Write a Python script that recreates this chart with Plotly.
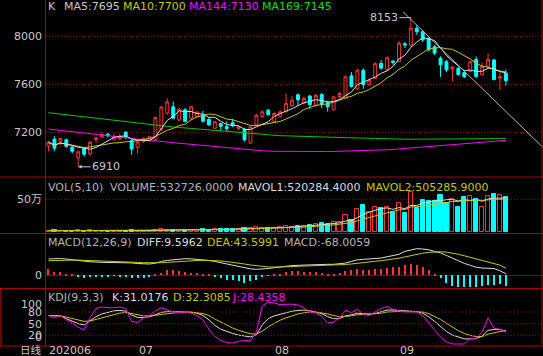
import plotly.graph_objects as go
import pandas as pd

# ---------------- data ----------------
idx = list(range(78))
opens = [7085, 7140, 7120, 7135, 7075, 6985, 7065, 7020, 7135, 7160,
         7182, 7140, 7145, 7200, 7128, 7072, 7120, 7130, 7135, 7225,
         7358, 7410, 7300, 7385, 7315, 7330, 7340, 7305, 7232, 7270,
         7245, 7278, 7230, 7222, 7108, 7260, 7330, 7382, 7288, 7330,
         7370, 7420, 7510, 7440, 7500, 7420, 7512, 7445, 7385, 7495,
         7482, 7668, 7560, 7715, 7595, 7648, 7772, 7720, 7790, 7788,
         7935, 7925, 8065, 8035, 7980, 7910, 7815, 7785, 7725, 7730,
         7695, 7705, 7805, 7678, 7745, 7800, 7650, 7690]
highs = [7125, 7165, 7150, 7145, 7080, 7045, 7075, 7125, 7160, 7195,
         7190, 7185, 7180, 7205, 7140, 7125, 7155, 7170, 7330, 7420,
         7480, 7455, 7400, 7400, 7420, 7375, 7375, 7320, 7290, 7275,
         7290, 7310, 7255, 7235, 7250, 7350, 7380, 7390, 7365, 7380,
         7520, 7500, 7520, 7495, 7510, 7520, 7525, 7460, 7500, 7535,
         7670, 7700, 7725, 7730, 7645, 7780, 7800, 7830, 7800, 7960,
         7950, 8153, 8090, 8050, 7990, 7925, 7830, 7800, 7750, 7745,
         7710, 7795, 7830, 7780, 7855, 7810, 7690, 7720]
lows = [7040, 7040, 7090, 7070, 7025, 6910, 6995, 7000, 7110, 7150,
        7155, 7130, 7130, 7140, 7010, 7020, 7110, 7120, 7125, 7210,
        7340, 7305, 7290, 7280, 7300, 7320, 7280, 7250, 7225, 7210,
        7210, 7240, 7215, 7120, 7100, 7250, 7320, 7335, 7280, 7320,
        7360, 7410, 7420, 7430, 7390, 7410, 7400, 7370, 7378, 7480,
        7475, 7570, 7550, 7560, 7585, 7640, 7720, 7710, 7760, 7780,
        7900, 7915, 8010, 7950, 7870, 7840, 7660, 7700, 7620, 7670,
        7650, 7700, 7650, 7670, 7735, 7630, 7550, 7585]
closes = [7115, 7065, 7145, 7080, 7040, 7035, 7015, 7115, 7150, 7178,
          7168, 7160, 7165, 7162, 7058, 7118, 7145, 7160, 7320, 7408,
          7450, 7315, 7390, 7288, 7410, 7365, 7290, 7260, 7285, 7248,
          7228, 7252, 7245, 7135, 7242, 7340, 7368, 7345, 7355, 7368,
          7438, 7465, 7468, 7480, 7428, 7505, 7430, 7412, 7492, 7520,
          7660, 7580, 7715, 7595, 7632, 7770, 7732, 7818, 7780, 7940,
          7925, 8065, 8035, 7968, 7885, 7858, 7760, 7718, 7740, 7678,
          7660, 7785, 7662, 7745, 7805, 7637, 7660, 7628]
volumes = [25000, 30000, 20000, 25000, 20000, 35000, 25000, 30000, 20000, 25000,
           20000, 15000, 20000, 25000, 30000, 25000, 20000, 25000, 40000, 45000,
           40000, 35000, 30000, 30000, 35000, 40000, 45000, 40000, 50000, 45000,
           50000, 45000, 50000, 60000, 70000, 75000, 60000, 65000, 70000, 75000,
           90000, 85000, 90000, 95000, 110000, 130000, 140000, 130000, 155000, 155000,
           260000, 190000, 345000, 410000, 310000, 375000, 360000, 385000, 300000, 445000,
           295000, 610000, 365000, 495000, 480000, 470000, 570000, 450000, 510000, 375000,
           530000, 550000, 510000, 380000, 550000, 575000, 560000, 532726]
ma144 = [7225, 7219, 7214, 7208, 7203, 7197, 7191, 7186, 7180, 7175,
         7169, 7163, 7158, 7152, 7147, 7141, 7136, 7130, 7125, 7120,
         7116, 7111, 7106, 7102, 7097, 7092, 7087, 7083, 7078, 7073,
         7069, 7064, 7060, 7056, 7052, 7048, 7044, 7040, 7039, 7039,
         7038, 7038, 7037, 7036, 7036, 7035, 7036, 7037, 7038, 7039,
         7040, 7041, 7042, 7043, 7044, 7045, 7048, 7052, 7055, 7059,
         7062, 7066, 7069, 7073, 7076, 7080, 7084, 7088, 7093, 7097,
         7101, 7105, 7109, 7113, 7118, 7122, 7126, 7130]
ma169 = [7361, 7355, 7349, 7343, 7337, 7331, 7325, 7319, 7313, 7307,
         7302, 7296, 7290, 7284, 7278, 7272, 7266, 7260, 7256, 7251,
         7247, 7242, 7238, 7234, 7229, 7225, 7220, 7216, 7212, 7207,
         7203, 7198, 7194, 7190, 7185, 7181, 7176, 7172, 7171, 7169,
         7168, 7166, 7165, 7163, 7162, 7160, 7159, 7157, 7156, 7155,
         7153, 7152, 7150, 7149, 7147, 7146, 7144, 7143, 7141, 7140,
         7140, 7140, 7140, 7141, 7141, 7141, 7141, 7142, 7142, 7142,
         7143, 7143, 7143, 7144, 7144, 7144, 7145, 7145]
diff = [101, 104, 104, 101, 98, 95, 88, 84, 81, 79,
        79, 79, 79, 79, 77, 73, 70, 70, 75, 86,
        92, 97, 100, 103, 102, 99, 97, 92, 86, 78,
        70, 62, 54, 48, 40, 37, 38, 42, 47, 52,
        56, 60, 62, 64, 66, 68, 68, 68, 68, 70,
        76, 86, 96, 99, 101, 102, 107, 115, 122, 130,
        148, 157, 165, 163, 158, 148, 139, 123, 106, 88,
        74, 62, 50, 45, 43, 42, 28, 9.5962]
dea = [90, 92, 93, 94, 94, 94, 93, 91, 89, 87,
       86, 84, 83, 82, 81, 80, 78, 77, 77, 78,
       80, 83, 86, 89, 91, 92, 93, 93, 91, 89,
       85, 81, 76, 70, 64, 59, 55, 52, 51, 51,
       52, 54, 56, 57, 59, 61, 62, 63, 64, 65,
       67, 70, 75, 79, 83, 87, 90, 94, 100, 106,
       114, 122, 131, 137, 142, 145, 146, 144, 138, 130,
       121, 111, 101, 92, 83, 74, 63, 43.5991]
macd = [36, 21, 21, 11, 4, -6, -15, -11, -11, -6,
        -6, -4, -6, -11, -17, -17, -15, -11, 4, 17,
        32, 32, 28, 21, 17, 13, 9, 4, -6, -17,
        -28, -32, -37, -45, -37, -26, -11, -2, 6, 11,
        19, 24, 24, 21, 21, 19, 15, 11, 11, 15,
        26, 32, 36, 34, 34, 36, 41, 47, 52, 54,
        62, 69, 62, 49, 30, 6, -19, -45, -67, -73,
        -75, -73, -71, -67, -62, -58, -54, -68.0059]
k_vals = [71, 70, 70, 63, 57, 50, 47, 57, 68, 75,
          80, 83, 84, 82, 72, 66, 66, 68, 73, 79,
          81, 81, 80, 80, 80, 77, 71, 60, 46, 36,
          30, 25, 21, 18, 16, 22, 47, 63, 70, 74,
          78, 82, 84, 85, 83, 80, 76, 68, 63, 63,
          70, 73, 77, 76, 74, 76, 81, 85, 85, 84,
          82, 81, 81, 77, 68, 56, 43, 30, 21, 15,
          11, 11, 12, 18, 33, 35, 35, 31.0176]
d_vals = [71, 70, 70, 67, 63, 60, 56, 57, 61, 65,
          70, 74, 77, 79, 76, 73, 70, 70, 71, 74,
          76, 78, 79, 79, 79, 78, 76, 71, 62, 54,
          46, 39, 33, 28, 24, 23, 31, 42, 51, 59,
          65, 71, 75, 78, 80, 80, 78, 75, 71, 68,
          69, 70, 73, 74, 74, 75, 77, 80, 81, 82,
          82, 81, 81, 80, 76, 69, 61, 51, 41, 32,
          25, 20, 17, 17, 23, 27, 30, 32.3085]
j_vals = [71, 65, 71, 60, 52, 41, 34, 65, 89, 93,
          91, 91, 93, 89, 56, 53, 65, 71, 83, 91,
          85, 80, 78, 80, 77, 71, 60, 36, 18, 7,
          2, 0, 5, 7, 6, 29, 96, 105, 103, 99,
          100, 100, 98, 91, 80, 78, 69, 52, 54, 65,
          85, 78, 87, 74, 71, 80, 89, 94, 87, 83,
          80, 80, 80, 71, 52, 32, 16, 3, -2, -2,
          -2, 12, 12, 29, 65, 38, 36, 28.4358]
trend_x = [59.68, 83.25]
trend_y = [8202, 7071]
month_pos = [0, 15, 38, 59]
month_labels = ["202006", "07", "08", "09"]
price_ticks = [7200, 7600, 8000]
kdj_ticks = [20, 50, 80, 100]

# ---------------- derived ----------------
cs = pd.Series(closes)
ma5 = cs.rolling(5, min_periods=1).mean()
ma10 = cs.rolling(10, min_periods=1).mean()
vs = pd.Series(volumes)
mavol1 = vs.rolling(5, min_periods=1).mean()
mavol2 = vs.rolling(10, min_periods=1).mean()

RED = "#FF3232"
CYAN = "#00FFFF"
WHITE = "#DCDCDC"
YEL = "#C8C800"
MAG = "#FF00FF"
GRN = "#00C800"
LAB = "#C8C8C8"
SEP = "#B00000"
GRID = "#8C0000"
FONT = "DejaVu Sans, Noto Sans CJK SC"
W, H = 543, 356


def py(p):
    return 1 - p / H


up = [c >= o for o, c in zip(opens, closes)]

fig = go.Figure()
fig.add_trace(go.Candlestick(
    x=idx, open=opens, high=highs, low=lows, close=closes,
    increasing=dict(line=dict(color=RED, width=1), fillcolor="black"),
    decreasing=dict(line=dict(color=CYAN, width=1), fillcolor=CYAN),
    whiskerwidth=0, xaxis="x", yaxis="y", hoverinfo="skip"))
for s, c in [(ma169, GRN), (ma144, MAG), (ma10, YEL), (ma5, WHITE)]:
    fig.add_trace(go.Scatter(x=idx, y=list(s), mode="lines",
                             line=dict(color=c, width=1), xaxis="x", yaxis="y"))
fig.add_trace(go.Scatter(x=trend_x, y=trend_y, mode="lines",
                         line=dict(color="#B4B4B4", width=1), xaxis="x", yaxis="y"))

# volume
fig.add_trace(go.Bar(x=idx, y=volumes, width=0.7,
                     marker=dict(color=["black" if u else CYAN for u in up],
                                 line=dict(color=[RED if u else CYAN for u in up], width=1)),
                     xaxis="x", yaxis="y2"))
fig.add_trace(go.Scatter(x=idx, y=list(mavol1), mode="lines",
                         line=dict(color=WHITE, width=1), xaxis="x", yaxis="y2"))
fig.add_trace(go.Scatter(x=idx, y=list(mavol2), mode="lines",
                         line=dict(color=YEL, width=1), xaxis="x", yaxis="y2"))

# MACD
fig.add_trace(go.Bar(x=idx, y=macd, width=0.18,
                     marker=dict(color=[RED if m >= 0 else CYAN for m in macd], line=dict(width=0)),
                     xaxis="x", yaxis="y3"))
fig.add_trace(go.Scatter(x=idx, y=diff, mode="lines", line=dict(color=WHITE, width=1),
                         xaxis="x", yaxis="y3"))
fig.add_trace(go.Scatter(x=idx, y=dea, mode="lines", line=dict(color=YEL, width=1),
                         xaxis="x", yaxis="y3"))

# KDJ
for s, c in [(k_vals, WHITE), (d_vals, YEL), (j_vals, MAG)]:
    fig.add_trace(go.Scatter(x=idx, y=s, mode="lines", line=dict(color=c, width=1),
                             xaxis="x", yaxis="y4"))

tickfont = dict(family=FONT, size=11, color=LAB)
common_y = dict(showline=False, zeroline=False, ticks="", tickfont=tickfont,
                ticklabelstandoff=3, automargin=False, fixedrange=True)
DOT = "1px,2px"

fig.update_layout(
    width=W, height=H, margin=dict(l=0, r=0, t=0, b=0),
    paper_bgcolor="black", plot_bgcolor="black", showlegend=False,
    bargap=0,
    xaxis=dict(domain=[46 / W, 1], range=[-0.42, 83.25], showgrid=False,
               showticklabels=False, zeroline=False, showline=False,
               anchor="y4", rangeslider=dict(visible=False)),
    yaxis=dict(domain=[py(177), 1], range=[6825, 8300], tickvals=price_ticks,
               showgrid=True, gridcolor=GRID, griddash=DOT, anchor="x", **common_y),
    yaxis2=dict(domain=[py(233), py(178)], range=[-12121, 821238], tickvals=[500000],
                ticktext=["50万"], showgrid=True, gridcolor=GRID, griddash=DOT,
                anchor="x", **common_y),
    yaxis3=dict(domain=[py(288.5), py(234)], range=[-81.8, 256], tickvals=[0],
                showgrid=True, gridcolor="#8C0000", anchor="x", **common_y),
    yaxis4=dict(domain=[py(346), py(289)], range=[-7.2, 139],
                tickvals=kdj_ticks, showgrid=False, anchor="x", **common_y),
)

shapes = []
for yv in [20, 50, 80]:
    shapes.append(dict(type="line", xref="paper", yref="y4", x0=46 / W, x1=1, y0=yv, y1=yv,
                       line=dict(color=GRID, width=1, dash=DOT)))
for yp in [177, 233.5, 288.5, 346]:
    shapes.append(dict(type="line", xref="paper", yref="paper", x0=0, x1=1,
                       y0=py(yp), y1=py(yp), line=dict(color=SEP, width=1)))
shapes.append(dict(type="line", xref="paper", yref="paper", x0=45.5 / W, x1=45.5 / W,
                   y0=py(346), y1=1, line=dict(color=SEP, width=1)))
shapes.append(dict(type="line", xref="paper", yref="paper", x0=542 / W, x1=542 / W,
                   y0=py(346), y1=1, line=dict(color=SEP, width=1)))
shapes.append(dict(type="line", xref="paper", yref="paper", x0=1 / W, x1=1 / W,
                   y0=py(346), y1=py(288.5), line=dict(color="#E00000", width=1)))
fig.update_layout(shapes=shapes)

ann = []


def label(text, xp, yp, color, size=11, anchor="left"):
    ann.append(dict(text=text, xref="paper", yref="paper", x=xp / W, y=py(yp),
                    xanchor=anchor, yanchor="middle", showarrow=False,
                    font=dict(family=FONT, size=size, color=color), borderpad=0))


label("K", 47, 7, LAB)
label("MA5:7695", 63, 7, LAB)
label("MA10:7700", 122, 7, YEL)
label("MA144:7130", 188, 7, MAG)
label("MA169:7145", 261, 7, "#00E000")
label("VOL(5,10)", 47, 187, "#B4B4B4")
label("VOLUME:532726.0000", 109, 187, "#B4B4B4")
label("MAVOL1:520284.4000", 237, 187, WHITE)
label("MAVOL2:505285.9000", 365, 187, YEL)
label("MACD(12,26,9)", 47, 242, "#B4B4B4")
label("DIFF:9.5962", 136, 242, WHITE)
label("DEA:43.5991", 206, 242, YEL)
label("MACD:-68.0059", 283, 242, "#B4B4B4")
label("KDJ(9,3,3)", 47, 297, "#B4B4B4")
label("K:31.0176", 111, 297, WHITE)
label("D:32.3085", 172, 297, YEL)
label("J:28.4358", 231, 297, MAG)
label("0", 42.5, 337.5, LAB, anchor="right")
label("日线", 19, 349.5, LAB, size=10.5)

for pos, txt in zip(month_pos, month_labels):
    ann.append(dict(text=txt, xref="x", yref="paper", x=pos, y=py(350.5),
                    xanchor="left", yanchor="middle", showarrow=False, borderpad=0,
                    font=dict(family=FONT, size=11, color=LAB)))

ann.append(dict(text="8153", xref="x", yref="y", x=highs.index(max(highs)), y=max(highs),
                ax=-27, ay=0, showarrow=True, arrowhead=0, arrowwidth=1,
                arrowcolor=LAB, font=dict(family=FONT, size=11, color=LAB)))
ann.append(dict(text="6910", xref="x", yref="y", x=lows.index(min(lows)), y=min(lows),
                ax=28, ay=0, showarrow=True, arrowhead=2, arrowsize=0.7, arrowwidth=1,
                arrowcolor=LAB, font=dict(family=FONT, size=11, color=LAB)))
fig.update_layout(annotations=ann)

fig.write_html("out.html", config={"displayModeBar": False},
               post_script="document.body.style.margin='0px';document.body.style.overflow='hidden';")
